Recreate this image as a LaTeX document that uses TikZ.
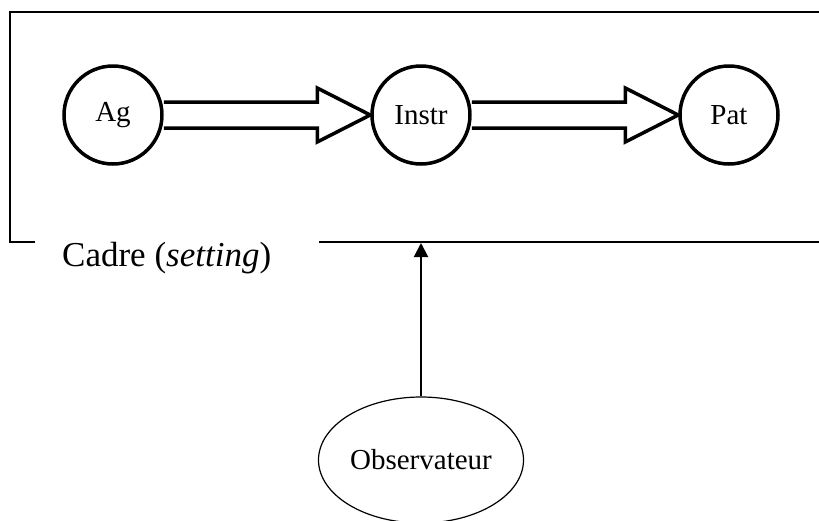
\documentclass[tikz,border=0pt]{standalone}
\usepackage{fontspec}
\setmainfont{Liberation Serif}
\usetikzlibrary{shapes.geometric,calc,arrows.meta}
\tikzset{
  role/.style={circle,draw,line width=3.5pt,minimum size=98pt,inner sep=0pt,font=\fontsize{29}{32}\selectfont},
  obs/.style={ellipse,draw,line width=1.2pt,minimum width=205pt,minimum height=126pt,inner sep=0pt,font=\fontsize{29}{32}\selectfont},
  frame/.style={line width=2pt},
  bigarrow/.style={draw,line width=3.5pt,fill=white,line join=miter},
  look/.style={line width=2pt,-{Triangle[length=14pt,width=14pt]}}
}
\begin{document}
\begin{tikzpicture}[x=1pt,y=-1pt]
\useasboundingbox (0,0) rectangle (819,520);
\clip (0,0) rectangle (819,520);
% frame
\coordinate (fbl) at (10,242);
\coordinate (fgl) at (35,242);
\coordinate (fgr) at (319,242);
\coordinate (fbr) at (830,242);
\coordinate (ftl) at (10,12);
\coordinate (ftr) at (830,12);
\draw[frame] (fgl) -- (fbl) -- (ftl) -- (ftr);
\draw[frame] (fgr) -- (fbr);
\node[anchor=base west,font=\fontsize{35}{38}\selectfont,inner sep=0pt] (cadre) at (62,266) {Cadre (\textit{setting})};
% roles
\node[role] (Ag) at (113,115) {Ag};
\node[role] (Instr) at (421,115) {Instr};
\node[role] (Pat) at (729,115) {Pat};
% big hollow arrows
\foreach \a/\b in {Ag/Instr,Instr/Pat}{
  \draw[bigarrow]
    ($(\a.east)+(0,-13)$) -- ($(\b.west)+(-53,-13)$) -- ($(\b.west)+(-53,-27)$)
    -- (\b.west)
    -- ($(\b.west)+(-53,27)$) -- ($(\b.west)+(-53,13)$) -- ($(\a.east)+(0,13)$);
}
% observer
\node[obs] (Obs) at (421,460) {Observateur};
\coordinate (hit) at (421,243);
\draw[look] (Obs.north) -- (hit);
\end{tikzpicture}
\end{document}
